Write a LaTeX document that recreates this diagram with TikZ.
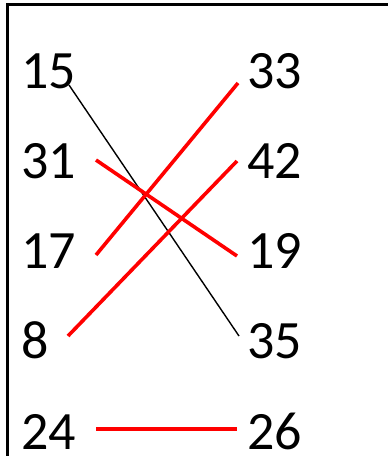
\documentclass[tikz,border=0pt]{standalone}
\usepackage{fontspec}
\setmainfont{Carlito}
\begin{document}
\begin{tikzpicture}[x=1pt,y=-1pt,
  num/.style={anchor=base west,inner sep=0pt,outer sep=0pt,text depth=0pt,font=\fontsize{54}{60}\selectfont},
  redline/.style={draw=red,line width=3.6pt},
  blackline/.style={draw=black,line width=1.4pt},
  frame/.style={draw=black,line width=3pt}]
\useasboundingbox (0,0) rectangle (388,456);
\draw[frame] (7,470) -- (7,4) -- (400,4);
% left column
\node[num] (n15) at (21,88) {15};
\node[num] (n31) at (21,178) {31};
\node[num] (n17) at (21,268) {17};
\node[num] (n8)  at (21,358) {8};
\node[num] (n24) at (21,449) {24};
% right column
\node[num] (n33) at (247,88) {33};
\node[num] (n42) at (247,178) {42};
\node[num] (n19) at (247,268) {19};
\node[num] (n35) at (247,358) {35};
\node[num] (n26) at (247,449) {26};
% line end points
\coordinate (a15) at (69,85);
\coordinate (b35) at (239,336);
\coordinate (a17) at (96,255);
\coordinate (b33) at (238,83);
\coordinate (a31) at (96,160);
\coordinate (b19) at (237,256);
\coordinate (a8) at (68,336);
\coordinate (b42) at (237,161);
\coordinate (a24) at (96,429);
\coordinate (b26) at (237,429);
\draw[blackline] (a15) -- (b35);
\draw[redline] (a17) -- (b33);
\draw[redline] (a31) -- (b19);
\draw[redline] (a8) -- (b42);
\draw[redline] (a24) -- (b26);
\end{tikzpicture}
\end{document}
